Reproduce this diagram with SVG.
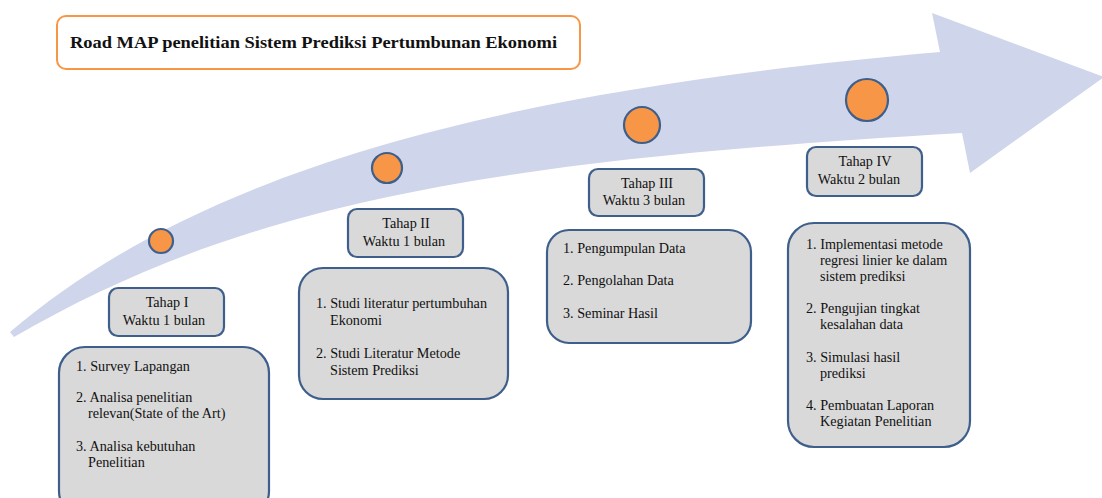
<svg xmlns="http://www.w3.org/2000/svg" width="1102" height="498" viewBox="0 0 1102 498">
<style>
.box{fill:#d9d9d9;stroke:#3e5f8c;stroke-width:2.2}
.dot{fill:#f79646;stroke:#3e5f8c;stroke-width:2.2}
.t{font-family:"Liberation Serif",serif;font-size:14.2px;fill:#111}
.c{text-anchor:middle}
.title{font-family:"Liberation Serif",serif;font-size:16px;font-weight:bold;fill:#111}
</style>
<rect width="1102" height="498" fill="#fff"/>
<g id="arrow">
<path d="M10 332 C 200 170, 500 90, 940 52 L 932 13 L 1104 77 L 970 173 L 962 133 C 500 160, 250 200, 14 337 Z" fill="#cfd5ea"/>
</g>
<g id="title">
<rect x="57" y="16" width="523" height="53" rx="9" fill="#fff" stroke="#f79646" stroke-width="2"/>
<text class="title" x="70" y="48" textLength="487" lengthAdjust="spacingAndGlyphs">Road MAP penelitian Sistem Prediksi Pertumbunan Ekonomi</text>
</g>
<g id="dot1"><circle class="dot" cx="161" cy="241" r="12"/></g>
<g id="dot2"><circle class="dot" cx="387" cy="168" r="15"/></g>
<g id="dot3"><circle class="dot" cx="642" cy="125" r="18"/></g>
<g id="dot4"><circle class="dot" cx="867" cy="100" r="21"/></g>
<g id="tahap1">
<rect class="box" x="109" y="288" width="115" height="48" rx="9"/>
<text class="t c" x="167" y="307">Tahap I</text>
<text class="t c" x="164" y="325">Waktu 1 bulan</text>
</g>
<g id="isi1">
<rect class="box" x="59" y="347" width="210" height="170" rx="26"/>
<text class="t" x="76" y="371">1. Survey Lapangan</text>
<text class="t" x="76" y="402">2. Analisa penelitian</text>
<text class="t" x="88" y="418">relevan(State of the Art)</text>
<text class="t" x="76" y="451">3. Analisa kebutuhan</text>
<text class="t" x="88" y="467">Penelitian</text>
</g>
<g id="tahap2">
<rect class="box" x="348" y="209" width="115" height="48" rx="9"/>
<text class="t c" x="406" y="228">Tahap II</text>
<text class="t c" x="404" y="246">Waktu 1 bulan</text>
</g>
<g id="isi2">
<rect class="box" x="299" y="268" width="209" height="131" rx="24"/>
<text class="t" x="316" y="308">1. Studi literatur pertumbuhan</text>
<text class="t" x="330" y="325">Ekonomi</text>
<text class="t" x="316" y="358">2. Studi Literatur Metode</text>
<text class="t" x="330" y="375">Sistem Prediksi</text>
</g>
<g id="tahap3">
<rect class="box" x="589" y="169" width="115" height="47" rx="9"/>
<text class="t c" x="647" y="188">Tahap III</text>
<text class="t c" x="644" y="205">Waktu 3 bulan</text>
</g>
<g id="isi3">
<rect class="box" x="547" y="230" width="204" height="113" rx="22"/>
<text class="t" x="563" y="253">1. Pengumpulan  Data</text>
<text class="t" x="563" y="285">2. Pengolahan Data</text>
<text class="t" x="563" y="318">3. Seminar Hasil</text>
</g>
<g id="tahap4">
<rect class="box" x="807" y="147" width="115" height="49" rx="9"/>
<text class="t c" x="865" y="166">Tahap IV</text>
<text class="t c" x="859" y="184">Waktu 2 bulan</text>
</g>
<g id="isi4">
<rect class="box" x="788" y="223" width="182" height="224" rx="26"/>
<text class="t" x="806" y="249">1. Implementasi metode</text>
<text class="t" x="820" y="265">regresi linier ke dalam</text>
<text class="t" x="820" y="281">sistem prediksi</text>
<text class="t" x="806" y="313">2. Pengujian tingkat</text>
<text class="t" x="820" y="329">kesalahan data</text>
<text class="t" x="806" y="362">3. Simulasi hasil</text>
<text class="t" x="820" y="378">prediksi</text>
<text class="t" x="806" y="410">4. Pembuatan Laporan</text>
<text class="t" x="820" y="426">Kegiatan Penelitian</text>
</g>
<g id="connectors"></g>
</svg>
